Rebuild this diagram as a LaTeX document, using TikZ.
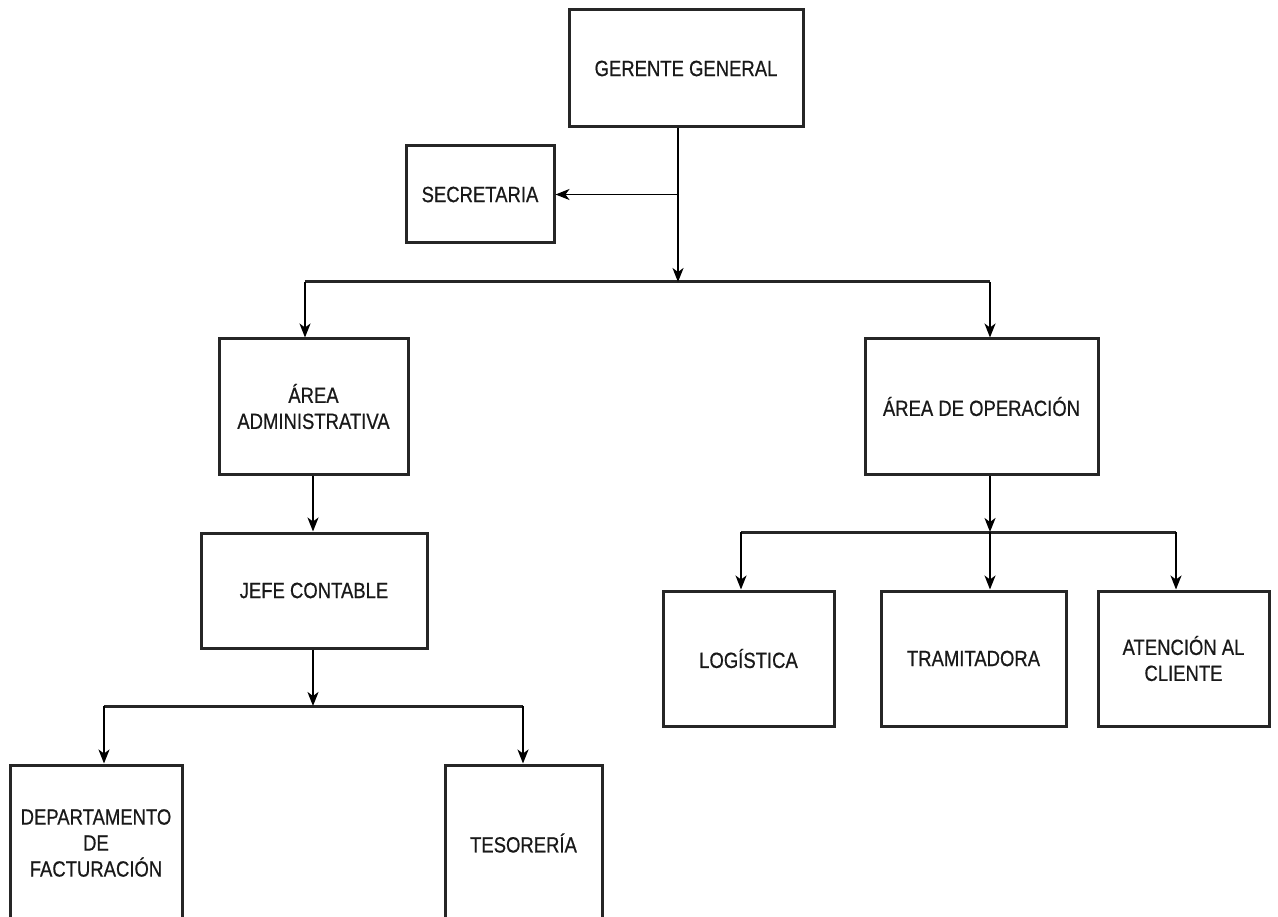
\documentclass[tikz,border=0pt]{standalone}
\usepackage{fontspec}
\setmainfont{Liberation Sans}[FakeStretch=0.84,FakeBold=0.6]
\usetikzlibrary{arrows.meta}
\begin{document}
\begin{tikzpicture}[x=1pt,y=-1pt,
  box/.style={draw=black!85, line width=3pt, rectangle, inner sep=0pt, align=center,
    font=\fontsize{22}{26}\selectfont, text=black!90},
  arr/.style={draw=black, line width=1.6pt, -{Stealth[length=14pt,width=11pt,inset=4pt]}},
  bus/.style={draw=black!85, line width=3pt}]
\useasboundingbox[fill=white] (0,0) rectangle (1278,917);
% boxes
\node[box, minimum width=234, minimum height=117] (gg) at (686,68.5) {GERENTE GENERAL};
\node[box, minimum width=148, minimum height=97] (sec) at (480,194.5) {SECRETARIA};
\node[box, minimum width=189, minimum height=135] (adm) at (313.5,406.5) {ÁREA\\ADMINISTRATIVA};
\node[box, minimum width=233, minimum height=135] (ope) at (981.5,406.5) {ÁREA DE OPERACIÓN};
\node[box, minimum width=226, minimum height=115] (jefe) at (314,590.5) {JEFE CONTABLE};
\node[box, minimum width=172, minimum height=156] (dep) at (96,843) {DEPARTAMENTO\\DE\\FACTURACIÓN};
\node[box, minimum width=157, minimum height=156] (tes) at (523.5,843) {TESORERÍA};
\node[box, minimum width=171, minimum height=135] (log) at (748.5,658.5) {LOGÍSTICA};
\node[box, minimum width=185, minimum height=135] (tra) at (973.5,658.5) {TRAMITADORA};
\node[box, minimum width=171, minimum height=135] (ate) at (1183.5,658.5) {ATENCIÓN AL\\CLIENTE};
% junction coordinates
\coordinate (j1) at (678,282);
\coordinate (b1l) at (305,282);
\coordinate (b1r) at (990,282);
\coordinate (j2) at (313,706);
\coordinate (b2l) at (104,706);
\coordinate (b2r) at (523,706);
\coordinate (j3) at (990,532);
\coordinate (b3l) at (741,532);
\coordinate (b3r) at (1176,532);
% buses
\draw[bus] (b1l) -- (b1r);
\draw[bus] (b2l) -- (b2r);
\draw[bus] (b3l) -- (b3r);
% connectors
\draw[arr] (gg.south -| j1) -- (j1);
\draw[arr] (j1 |- sec.east) -- (sec.east);
\draw[arr] (b1l) -- (adm.north -| b1l);
\draw[arr] (b1r) -- (ope.north -| b1r);
\draw[arr] (adm.south -| j2) -- (jefe.north -| j2);
\draw[arr] (jefe.south -| j2) -- (j2);
\draw[arr] (b2l) -- (dep.north -| b2l);
\draw[arr] (b2r) -- (tes.north -| b2r);
\draw[arr] (ope.south -| j3) -- (j3);
\draw[arr] (b3l) -- (log.north -| b3l);
\draw[arr] (j3) -- (tra.north -| j3);
\draw[arr] (b3r) -- (ate.north -| b3r);
\end{tikzpicture}
\end{document}
